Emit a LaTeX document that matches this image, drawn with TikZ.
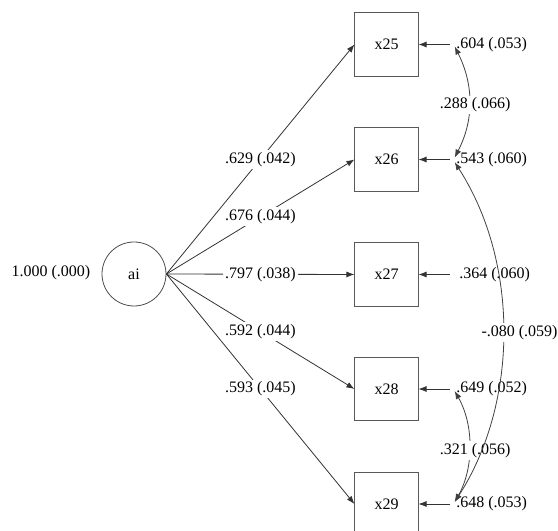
\documentclass[tikz,border=0pt]{standalone}
\usepackage{fontspec}
\setmainfont{Liberation Serif}
\usetikzlibrary{arrows.meta,calc}
\begin{document}
\begin{tikzpicture}[x=0.75pt,y=-0.75pt,
  font=\fontsize{12}{14}\selectfont,
  obs/.style={draw=black!65, line width=0.6pt, minimum size=47.5pt, inner sep=0pt},
  lat/.style={circle, draw=black!70, line width=0.6pt, minimum size=48pt, inner sep=0pt},
  pathto/.style={draw=black!80, line width=0.6pt, -{Latex[length=6pt,width=4.5pt]}},
  cov/.style={draw=black!75, line width=0.6pt, {Latex[length=6pt,width=4.5pt]}-{Latex[length=6pt,width=4.5pt]}},
  lab/.style={fill=white, inner sep=1.5pt},
  err/.style={anchor=west, inner sep=0pt}]
\useasboundingbox (0,0) rectangle (558,531);
\clip (0,0) rectangle (558,531);
% latent
\node[lat] (ai) at (134,274) {ai};
\node (var) at (51,273) {1.000 (.000)};
% observed
\node[obs] (x25) at (386.5,44.5) {x25};
\node[obs] (x26) at (386.5,159.5) {x26};
\node[obs] (x27) at (386.5,274.5) {x27};
\node[obs] (x28) at (386.5,389) {x28};
\node[obs] (x29) at (386.5,504) {x29};
% loadings
\draw[pathto] (ai.east) -- node[lab]{.629 (.042)} (x25.west);
\draw[pathto] (ai.east) -- node[lab]{.676 (.044)} (x26.west);
\draw[pathto] (ai.east) -- node[lab]{.797 (.038)} (x27.west);
\draw[pathto] (ai.east) -- node[lab]{.592 (.044)} (x28.west);
\draw[pathto] (ai.east) -- node[lab]{.593 (.045)} (x29.west);
% error variances
\node[err] (e25) at (456,44.5) {.604 (.053)};
\node[err] (e26) at (456,159.5) {.543 (.060)};
\node[err] (e27) at (459,274.5) {.364 (.060)};
\node[err] (e28) at (456,389) {.649 (.052)};
\node[err] (e29) at (456,504) {.648 (.053)};
\draw[pathto] ([xshift=-4.5pt]e25.west) -- (x25.east);
\draw[pathto] ([xshift=-4.5pt]e26.west) -- (x26.east);
\draw[pathto] ([xshift=-6.75pt]e27.west) -- (x27.east);
\draw[pathto] ([xshift=-4.5pt]e28.west) -- (x28.east);
\draw[pathto] ([xshift=-4.5pt]e29.west) -- (x29.east);
% covariances
\draw[cov] ([xshift=-1pt,yshift=-1.5pt]e25.west) .. controls (474,85) and (474,120) .. ([xshift=-1pt,yshift=1.5pt]e26.west)
  node[lab, pos=0.5, xshift=4.5pt, yshift=-2pt] {.288 (.066)};
\draw[cov] ([xshift=-1pt,yshift=-1.5pt]e28.west) .. controls (474,425) and (474,468) .. ([xshift=-1pt,yshift=1.5pt]e29.west)
  node[lab, pos=0.5, xshift=4.5pt, yshift=-3pt] {.321 (.056)};
\draw[cov] ([xshift=-1pt,yshift=-2pt]e26.west) .. controls (519,262) and (519,402) .. ([xshift=-1pt,yshift=1.5pt]e29.west)
  node[lab, pos=0.5, xshift=12.5pt, yshift=-0.5pt] {-.080 (.059)};
\end{tikzpicture}
\end{document}
